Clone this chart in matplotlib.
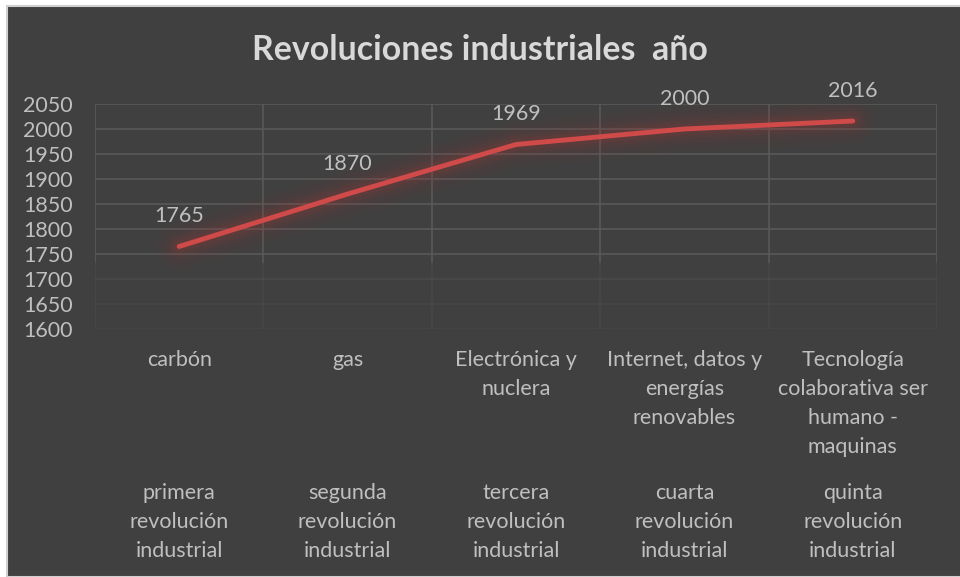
import matplotlib.pyplot as plt
from matplotlib.patches import Rectangle
import numpy as np

# Datos
fuentes = ['carbón', 'gas', 'Electrónica y\nnuclera', 'Internet, datos y\nenergías\nrenovables',
           'Tecnología\ncolaborativa ser\nhumano -\nmaquinas']
revoluciones = ['primera\nrevolución\nindustrial', 'segunda\nrevolución\nindustrial',
                'tercera\nrevolución\nindustrial', 'cuarta\nrevolución\nindustrial',
                'quinta\nrevolución\nindustrial']
anios = [1765, 1870, 1969, 2000, 2016]

fondo = '#404040'
texto = '#bfbfbf'
rejilla = '#595959'
rojo = '#d04a4a'

plt.rcParams['font.family'] = ['Lato', 'DejaVu Sans']

fig = plt.figure(figsize=(9.6, 5.77), dpi=100, facecolor='white')
# marco del gráfico
fig.patches.append(Rectangle((7/960, 0), 1, 1 - 6/577, transform=fig.transFigure,
                             facecolor=fondo, edgecolor='#d0d0d0', linewidth=1.5, zorder=-10))

ax = fig.add_axes([95/960, 1 - 329/577, (937 - 95)/960, (329 - 104)/577])
ax.patch.set_alpha(0)

x = np.arange(len(anios))
ax.set_xlim(-0.5, len(anios) - 0.5)
ax.set_ylim(1600, 2050)

# rejilla (se desvanece hacia abajo)
for v in range(1600, 2051, 50):
    alfa = 1.0 if v >= 1750 else max(0.15, (v - 1600) / 150 * 0.6)
    ax.axhline(v, color=rejilla, linewidth=1.2, alpha=alfa, zorder=1)
for b in np.arange(-0.5, len(anios), 1):
    ax.axvline(b, color=rejilla, linewidth=1.2, zorder=1, ymin=0.3)
    ax.axvline(b, color=rejilla, linewidth=1.2, alpha=0.25, zorder=1, ymax=0.3)

for s in ax.spines.values():
    s.set_visible(False)

# brillo de la línea (más difuso)
for lw, a in [(34, 0.03), (27, 0.04), (20, 0.055), (14, 0.08), (9, 0.12)]:
    ax.plot(x, anios, color='#a83838', linewidth=lw, alpha=a, solid_capstyle='round', zorder=2)
ax.plot(x, anios, color=rojo, linewidth=3.5, solid_capstyle='round', zorder=3)

for xi, v in zip(x, anios):
    ax.annotate(str(v), (xi, v), xytext=(0, 14.5), textcoords='offset points',
                ha='center', va='bottom', color=texto, fontsize=15.5, zorder=4)

ax.set_yticks(range(1600, 2051, 50))
ax.tick_params(axis='y', length=0, labelcolor=texto, labelsize=15.5, pad=16)
ax.set_xticks([])

trans = ax.get_xaxis_transform()
for xi, f, r in zip(x, fuentes, revoluciones):
    ax.text(xi, -0.095, f, transform=trans, ha='center', va='top', color=texto,
            fontsize=15.5, linespacing=1.55)
    ax.text(xi, -0.685, r, transform=trans, ha='center', va='top', color=texto,
            fontsize=15.5, linespacing=1.55)

fig.text(0.5, 1 - 50/577, 'Revoluciones industriales  año', ha='center', va='center',
         color='#d9d9d9', fontsize=24.4, fontweight='bold')

fig.savefig('out.png', dpi=100, facecolor='white')
